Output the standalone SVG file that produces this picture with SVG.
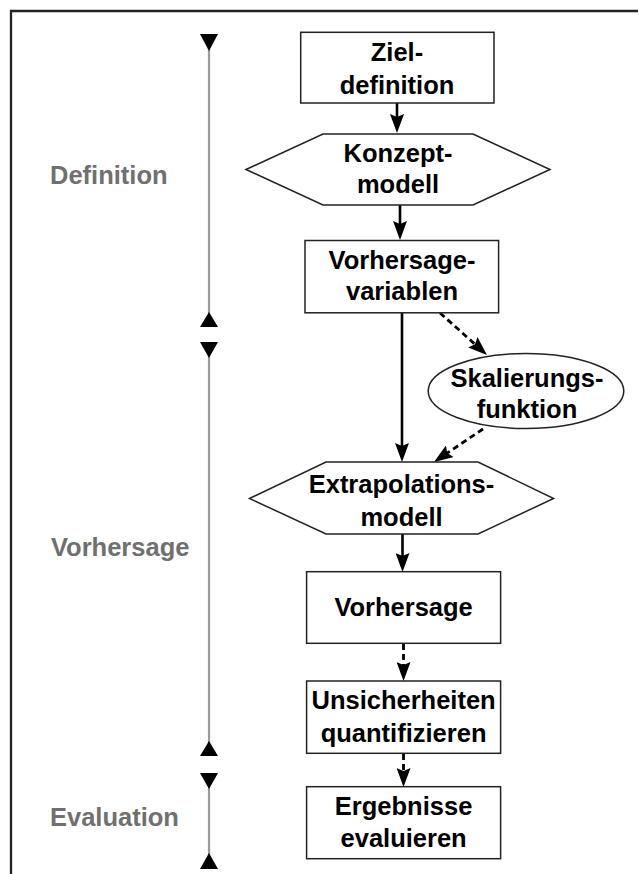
<svg xmlns="http://www.w3.org/2000/svg" width="639" height="874" viewBox="0 0 639 874">
<defs>
<style>
.node{fill:#fff;stroke:#222;stroke-width:1.5}
.t{font-family:"Liberation Sans",Arial,sans-serif;font-weight:bold;font-size:25.5px;fill:#000;text-anchor:middle}
.lab{font-family:"Liberation Sans",Arial,sans-serif;font-weight:bold;font-size:25.5px;fill:#707070}
.tl{stroke:#9a9a9a;stroke-width:2.2;fill:none}
.tri{fill:#000}
.c{stroke:#000;stroke-width:2.6;fill:none;marker-end:url(#ah)}
.d{stroke:#000;stroke-width:2.8;fill:none;stroke-dasharray:6 4;marker-end:url(#ah)}
</style>
<marker id="ah" viewBox="0 0 19 14" refX="9" refY="7" markerWidth="19" markerHeight="14" markerUnits="userSpaceOnUse" orient="auto">
<path d="M0,0 L19,7 L0,14 L3,7 Z" fill="#000"/>
</marker>
</defs>
<rect width="639" height="874" fill="#fff"/>
<path d="M11,876 L11,11 L638,11" fill="none" stroke="#222" stroke-width="2.3"/>

<g id="timeline">
<line class="tl" x1="209" y1="48" x2="209" y2="314"/>
<line class="tl" x1="209" y1="356" x2="209" y2="743"/>
<line class="tl" x1="209" y1="787" x2="209" y2="855"/>
<polygon class="tri" points="200,34 218,34 209,51"/>
<polygon class="tri" points="200,327 218,327 209,312"/>
<polygon class="tri" points="200,342 218,342 209,358"/>
<polygon class="tri" points="200,756 218,756 209,741"/>
<polygon class="tri" points="200,773 218,773 209,789"/>
<polygon class="tri" points="200,869 218,869 209,853"/>
</g>

<g id="labels">
<text class="lab" x="50" y="184">Definition</text>
<text class="lab" x="51" y="556">Vorhersage</text>
<text class="lab" x="50" y="826">Evaluation</text>
</g>

<g id="connectors">
<line class="c" x1="397" y1="103" x2="397" y2="123"/>
<line class="c" x1="400" y1="205" x2="400" y2="230"/>
<line class="c" x1="402" y1="313" x2="402" y2="452"/>
<line class="d" x1="440" y1="313" x2="479.5" y2="348.3"/>
<line class="d" x1="483" y1="429" x2="442.3" y2="456.4"/>
<line class="c" x1="402.5" y1="534" x2="402.5" y2="562"/>
<line class="d" x1="403.5" y1="644" x2="403.5" y2="671"/>
<line class="d" x1="403.5" y1="754" x2="403.5" y2="777"/>
</g>

<g id="n-ziel">
<rect class="node" x="300.7" y="32.3" width="193.3" height="70.7"/>
<text class="t" x="397" y="61">Ziel-</text>
<text class="t" x="397" y="94">definition</text>
</g>

<g id="n-konzept">
<polygon class="node" points="246,169.5 323,134 473,134 550,169.5 473,205 323,205"/>
<text class="t" x="398" y="162">Konzept-</text>
<text class="t" x="398" y="193">modell</text>
</g>

<g id="n-variablen">
<rect class="node" x="305" y="240.5" width="193.6" height="72.3"/>
<text class="t" x="402" y="269">Vorhersage-</text>
<text class="t" x="402" y="300">variablen</text>
</g>

<g id="n-skalierung">
<ellipse class="node" cx="526" cy="391" rx="97.8" ry="37.5"/>
<text class="t" x="527" y="387">Skalierungs-</text>
<text class="t" x="527" y="418">funktion</text>
</g>

<g id="n-extrapolation">
<polygon class="node" points="249.5,498.5 326,462 478,462 553.6,498.5 478,534 326,534"/>
<text class="t" x="401.5" y="493">Extrapolations-</text>
<text class="t" x="401.5" y="526">modell</text>
</g>

<g id="n-vorhersage">
<rect class="node" x="306.6" y="571.7" width="194" height="71.6"/>
<text class="t" x="403.6" y="616">Vorhersage</text>
</g>

<g id="n-unsicherheit">
<rect class="node" x="306.6" y="681" width="194" height="72.3"/>
<text class="t" x="403.6" y="709">Unsicherheiten</text>
<text class="t" x="403.6" y="742">quantifizieren</text>
</g>

<g id="n-ergebnisse">
<rect class="node" x="306.6" y="786.7" width="194" height="72"/>
<text class="t" x="403.6" y="815">Ergebnisse</text>
<text class="t" x="403.6" y="847">evaluieren</text>
</g>
</svg>
